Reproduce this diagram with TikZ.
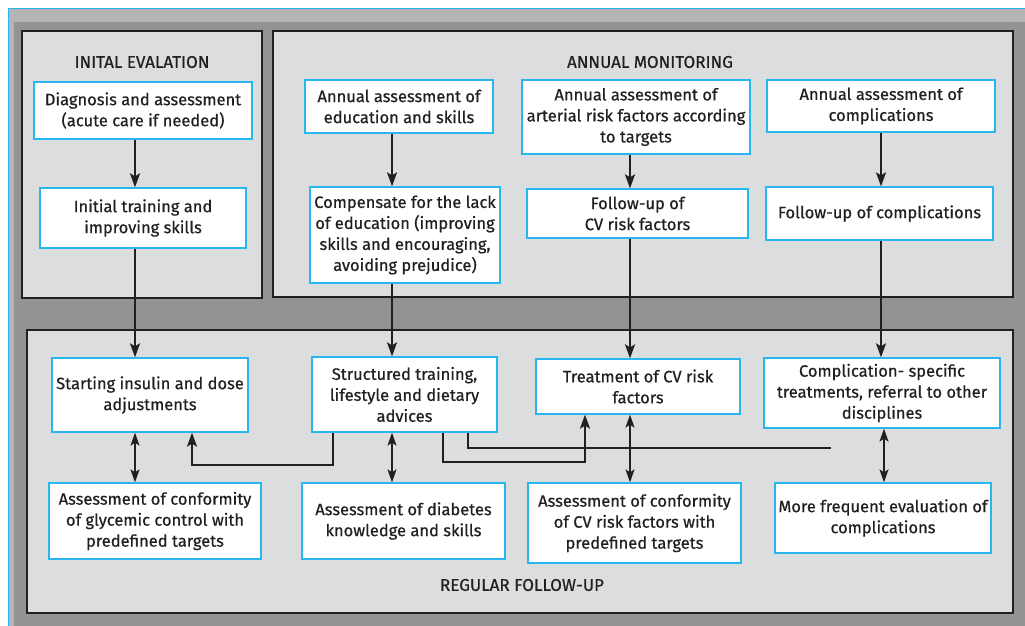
\documentclass[tikz,border=0pt]{standalone}
\usepackage{fontspec}
\setmainfont[FakeBold=0.6]{Fira Sans}
\usetikzlibrary{arrows.meta}
\definecolor{panelfill}{HTML}{DCDDDF}
\definecolor{outergray}{HTML}{939393}
\definecolor{lightgray}{HTML}{B4B4B4}
\definecolor{boxblue}{HTML}{29B6F0}
\definecolor{ink}{HTML}{231F20}
\tikzset{
  panel/.style={draw=ink, line width=2.5pt, fill=panelfill},
  box/.style={draw=boxblue, line width=1.3pt, fill=white, align=center, inner sep=0pt, font=\fontsize{16.5}{21}\selectfont, text=ink},
  ptitle/.style={font=\fontsize{17}{19}\selectfont, text=ink},
  arr/.style={draw=ink, line width=2pt, -{Stealth[length=14pt,width=10pt,inset=3pt]}},
  darr/.style={draw=ink, line width=1.5pt, {Stealth[length=13pt,width=9pt,inset=3pt]}-{Stealth[length=13pt,width=9pt,inset=3pt]}},
  conn/.style={draw=ink, line width=2pt},
}
\newcommand\mybox[6]{%
  \node[box, minimum width={(#4-#2)*1pt}, minimum height={(#5-#3)*1pt}] (#1) at ({(#2+#4)/2},{(#3+#5)/2}) {#6};}
\begin{document}
\begin{tikzpicture}[x=1pt,y=-1pt]
\useasboundingbox (0,0) rectangle (1025,626);
\fill[white] (0,0) rectangle (1025,626);
\fill[lightgray] (9,9) rectangle (1025,626);
\fill[outergray] (14,22) rectangle (1025,626);
\draw[boxblue, line width=1.5pt] (1030,8.5) -- (8.5,8.5) -- (8.5,630);
% panels
\draw[panel] (22,31) rectangle (262,298);
\draw[panel] (273,31) rectangle (1013,297);
\draw[panel] (27,330) rectangle (1013,613);
\node[ptitle] (t1) at (142,62) {INITAL EVALATION};
\node[ptitle] (t2) at (650,62) {ANNUAL MONITORING};
\node[ptitle] (t3) at (522,585) {REGULAR FOLLOW-UP};
% boxes
\mybox{diag}{34}{82}{252}{139}{Diagnosis and assessment\\(acute care if needed)}
\mybox{init}{40}{188}{246}{248}{Initial training and\\improving skills}
\mybox{anned}{305}{80}{493}{133}{Annual assessment of\\education and skills}
\mybox{comp}{310}{187}{500}{283}{Compensate for the lack\\of education (improving\\skills and encouraging,\\avoiding prejudice)}
\mybox{annart}{522}{80}{750}{154}{Annual assessment of\\arterial risk factors according\\to targets}
\mybox{fucv}{527}{189}{748}{238}{Follow-up of\\CV risk factors}
\mybox{anncomp}{767}{80}{995}{132}{Annual assessment of\\complications}
\mybox{fucomp}{766}{187}{993}{240}{Follow-up of complications}
\mybox{ins}{52}{358}{248}{432}{Starting insulin and dose\\adjustments}
\mybox{struct}{312}{357}{497}{432}{Structured training,\\lifestyle and dietary\\advices}
\mybox{treat}{536}{359}{740}{414}{Treatment of CV risk\\factors}
\mybox{cst}{764}{358}{1000}{428}{Complication- specific\\treatments, referral to other\\disciplines}
\mybox{aglyc}{49}{483}{261}{559}{Assessment of conformity\\of glycemic control with\\predefined targets}
\mybox{aknow}{302}{483}{505}{559}{Assessment of diabetes\\knowledge and skills}
\mybox{acv}{528}{483}{741}{563}{Assessment of conformity\\of CV risk factors with\\predefined targets}
\mybox{afreq}{775}{483}{991}{553}{More frequent evaluation of\\complications}
% column coordinates
\coordinate (c1) at (135,0);
\coordinate (c2) at (392,0);
\coordinate (c3) at (630,0);
\coordinate (c4) at (881,0);
\coordinate (c4b) at (884,0);
% vertical arrows
\draw[arr] (diag.south -| c1) -- (init.north -| c1);
\draw[arr] (init.south -| c1) -- (ins.north -| c1);
\draw[arr] (anned.south -| c2) -- (comp.north -| c2);
\draw[arr] (comp.south -| c2) -- (struct.north -| c2);
\draw[arr] (annart.south -| c3) -- (fucv.north -| c3);
\draw[arr] (fucv.south -| c3) -- (treat.north -| c3);
\draw[arr] (anncomp.south -| c4) -- (fucomp.north -| c4);
\draw[arr] (fucomp.south -| c4) -- (cst.north -| c4);
% double arrows
\draw[darr] (ins.south -| c1) -- (aglyc.north -| c1);
\draw[darr] (struct.south -| c2) -- (aknow.north -| c2);
\draw[darr] (treat.south -| c3) -- (acv.north -| c3);
\draw[darr] (cst.south -| c4b) -- (afreq.north -| c4b);
% elbow connectors
\coordinate (s1) at (333,0);
\coordinate (s2) at (443,0);
\coordinate (s3) at (468,0);
\coordinate (i1) at (192,0);
\coordinate (t1x) at (585,0);
\coordinate (free) at (831,448);
\draw[conn, -{Stealth[length=14pt,width=10pt,inset=3pt]}] (struct.south -| s1) |- (192,464.5) -- (ins.south -| i1);
\draw[conn, -{Stealth[length=14pt,width=10pt,inset=3pt]}] (struct.south -| s2) |- (585,462) -- (treat.south -| t1x);
\draw[conn] (struct.south -| s3) |- (free);
\end{tikzpicture}
\end{document}
